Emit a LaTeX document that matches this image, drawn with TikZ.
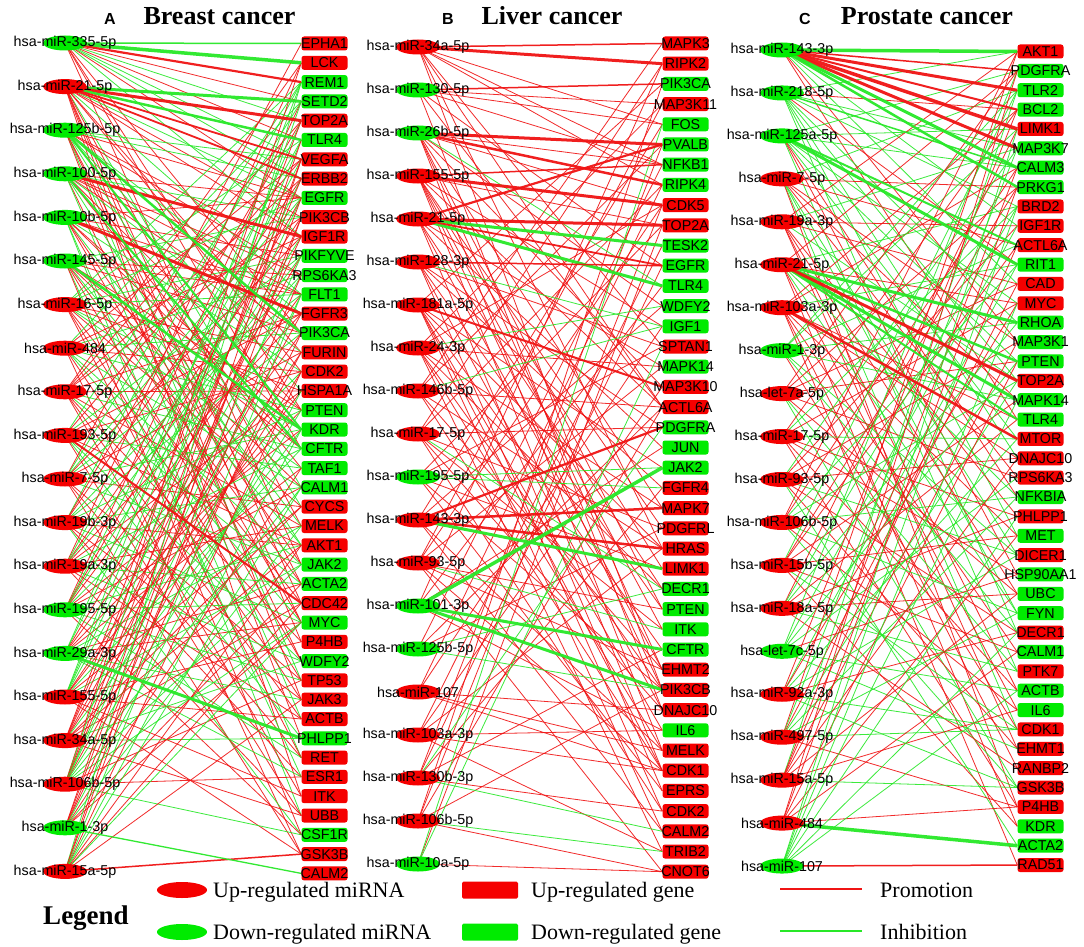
\documentclass[tikz,border=0pt]{standalone}
\usepackage{fontspec}
\setmainfont{Liberation Serif}
\setsansfont{Liberation Sans}
\usetikzlibrary{shapes.geometric}
\pgfdeclarelayer{edges}
\pgfsetlayers{edges,main}
\definecolor{ur}{RGB}{245,0,0}
\definecolor{dg}{RGB}{0,235,0}
\definecolor{promc}{RGB}{240,20,20}
\definecolor{inhc}{RGB}{40,232,40}
\begin{document}
\begin{tikzpicture}[x=1pt,y=-1pt,
  mi/.style={ellipse, minimum width=44, minimum height=15, inner sep=0pt, draw=none},
  mtxt/.style={font=\sffamily\fontsize{14.3}{15}\selectfont, inner sep=0pt, text=black},
  gn/.style={rectangle, rounded corners=2.5pt, minimum width=46, minimum height=14, inner sep=0pt, draw=none},
  gtxt/.style={font=\sffamily\fontsize{14.3}{15}\selectfont, inner sep=0pt, text=black},
  lnk/.style={line width=0.8pt, opacity=0.9},
  ttl/.style={font=\bfseries\fontsize{26}{26}\selectfont, anchor=base},
  lett/.style={font=\sffamily\bfseries\fontsize{16}{16}\selectfont},
  lt/.style={font=\fontsize{22}{22}\selectfont, anchor=base west, inner sep=0pt}]
\useasboundingbox (0,0) rectangle (1084,947);
\begin{pgfonlayer}{edges}
\fill[white] (0,0) rectangle (1084,947);
\end{pgfonlayer}

% ---------------- titles
\node[lett] (tA) at (110,19) {A};
\node[ttl] (ttA) at (219.5,25) {Breast cancer};
\node[lett] (tB) at (448,19) {B};
\node[ttl] (ttB) at (552,25) {Liver cancer};
\node[lett] (tC) at (805,19) {C};
\node[ttl] (ttC) at (927,25) {Prostate cancer};

% ---------------- panel A nodes
\foreach \n/\c [count=\i] in {335-5p/dg,21-5p/ur,125b-5p/dg,100-5p/dg,10b-5p/dg,145-5p/dg,16-5p/ur,484/ur,17-5p/ur,193-5p/ur,7-5p/ur,19b-3p/ur,19a-3p/ur,195-5p/dg,29a-3p/dg,155-5p/ur,34a-5p/ur,106b-5p/ur,1-3p/dg,15a-5p/ur}{
  \node[mi, fill=\c] (A-m\i) at (65,{43+(\i-1)*43.6}) {};
  \node[mtxt] at (A-m\i) {hsa-miR-\n};
  \expandafter\xdef\csname AMc\i\endcsname{\c}
}
\foreach \n/\c [count=\i] in {EPHA1/ur,LCK/ur,REM1/dg,SETD2/dg,TOP2A/ur,TLR4/dg,VEGFA/ur,ERBB2/ur,EGFR/dg,PIK3CB/ur,IGF1R/ur,PIKFYVE/dg,RPS6KA3/dg,FLT1/dg,FGFR3/ur,PIK3CA/dg,FURIN/ur,CDK2/ur,HSPA1A/ur,PTEN/dg,KDR/dg,CFTR/dg,TAF1/dg,CALM1/dg,CYCS/ur,MELK/ur,AKT1/ur,JAK2/dg,ACTA2/dg,CDC42/ur,MYC/dg,P4HB/ur,WDFY2/dg,TP53/ur,JAK3/ur,ACTB/ur,PHLPP1/dg,RET/ur,ESR1/ur,ITK/ur,UBB/ur,CSF1R/dg,GSK3B/ur,CALM2/ur}{
  \node[gn, fill=\c] (A-g\i) at (324.5,{43.5+(\i-1)*19.3}) {};
  \node[gtxt] at (A-g\i) {\n};
  \expandafter\xdef\csname AGc\i\endcsname{\c}
}

% ---------------- panel B nodes
\foreach \n/\c [count=\i] in {34a-5p/ur,130-5p/dg,26b-5p/dg,155-5p/ur,21-5p/ur,128-3p/ur,181a-5p/ur,24-3p/ur,146b-5p/ur,17-5p/ur,195-5p/dg,143-3p/ur,93-5p/ur,101-3p/dg,125b-5p/dg,107/ur,103a-3p/ur,130b-3p/ur,106b-5p/ur,10a-5p/dg}{
  \node[mi, fill=\c] (B-m\i) at (418,{47+(\i-1)*43}) {};
  \node[mtxt] at (B-m\i) {hsa-miR-\n};
}
\foreach \n/\c [count=\i] in {MAPK3/ur,RIPK2/ur,PIK3CA/dg,MAP3K11/ur,FOS/dg,PVALB/dg,NFKB1/dg,RIPK4/dg,CDK5/ur,TOP2A/ur,TESK2/dg,EGFR/dg,TLR4/dg,WDFY2/dg,IGF1/dg,SPTAN1/ur,MAPK14/dg,MAP3K10/ur,ACTL6A/ur,PDGFRA/dg,JUN/dg,JAK2/dg,FGFR4/ur,MAPK7/ur,PDGFRL/ur,HRAS/ur,LIMK1/ur,DECR1/dg,PTEN/dg,ITK/dg,CFTR/dg,EHMT2/ur,PIK3CB/ur,DNAJC10/ur,IL6/dg,MELK/ur,CDK1/ur,EPRS/ur,CDK2/ur,CALM2/ur,TRIB2/ur,CNOT6/ur}{
  \node[gn, fill=\c] (B-g\i) at (685.5,{43.5+(\i-1)*20.2}) {};
  \node[gtxt] at (B-g\i) {\n};
}

% ---------------- panel C nodes
\foreach \n/\c [count=\i] in {miR-143-3p/dg,miR-218-5p/dg,miR-125a-5p/dg,miR-7-5p/ur,miR-19a-3p/ur,miR-21-5p/ur,miR-103a-3p/ur,miR-1-3p/dg,let-7a-5p/ur,miR-17-5p/ur,miR-93-5p/ur,miR-106b-5p/ur,miR-15b-5p/ur,miR-18a-5p/ur,let-7c-5p/dg,miR-92a-3p/ur,miR-497-5p/ur,miR-15a-5p/ur,miR-484/ur,miR-107/dg}{
  \node[mi, fill=\c] (C-m\i) at (782,{50+(\i-1)*42.95}) {};
  \node[mtxt] at (C-m\i) {hsa-\n};
  \expandafter\xdef\csname CMc\i\endcsname{\c}
}
\foreach \n/\c [count=\i] in {AKT1/ur,PDGFRA/dg,TLR2/dg,BCL2/dg,LIMK1/ur,MAP3K7/dg,CALM3/dg,PRKG1/dg,BRD2/ur,IGF1R/ur,ACTL6A/ur,RIT1/dg,CAD/ur,MYC/ur,RHOA/dg,MAP3K1/dg,PTEN/dg,TOP2A/ur,MAPK14/dg,TLR4/dg,MTOR/ur,DNAJC10/ur,RPS6KA3/ur,NFKBIA/dg,PHLPP1/ur,MET/dg,DICER1/ur,HSP90AA1/dg,UBC/dg,FYN/dg,DECR1/ur,CALM1/dg,PTK7/ur,ACTB/dg,IL6/dg,CDK1/ur,EHMT1/ur,RANBP2/ur,GSK3B/ur,P4HB/ur,KDR/dg,ACTA2/dg,RAD51/ur}{
  \node[gn, fill=\c] (C-g\i) at (1040.5,{51.5+(\i-1)*19.37}) {};
  \node[gtxt] at (C-g\i) {\n};
}

% ---------------- edges
\def\redtag{ur}
\begin{pgfonlayer}{edges}
% panel A thin (colour: red when miRNA and gene share colour)
\foreach \m/\gs in {1/{4,5,6,7,8,9,11,16,20,22,28},2/{9,10,11,14,17,18,24,26,30,32,35,40},3/{7,8,9,12,13,15,19,25,29,31,34,37},4/{9,10,13,14,16,17,20,23,27,33,36},5/{9,12,14,18,21,22,26,28,31,38,41},6/{10,13,14,16,20,22,24,27,29,33,39,42},7/{3,6,9,12,14,17,19,21,23,25,30,34,38},8/{4,7,11,13,16,18,20,24,28,31,35,43},9/{2,5,8,10,15,19,22,26,29,32,36,40},10/{3,7,12,15,18,23,27,33,37,41},11/{1,4,9,11,14,17,21,25,28,34,38,43},12/{3,5,8,13,16,20,24,27,31,35,39,42},13/{2,6,10,12,15,19,22,26,29,33,36,41},14/{4,7,9,11,14,18,21,24,27,30,34,38,42},15/{5,8,12,16,20,23,26,29,31,35,39},16/{3,6,9,13,17,19,22,25,28,32,36,40,43},17/{5,8,11,15,18,21,25,27,30,33,37,41},18/{2,4,7,10,12,14,17,20,24,28,31,34,39,42},19/{6,9,13,16,19,23,26,29,31},20/{3,7,10,14,18,21,24,27,30,31,35}}{
  \foreach \g in \gs {
    \edef\ca{\csname AMc\m\endcsname}\edef\cb{\csname AGc\g\endcsname}
    \ifx\ca\cb \def\ec{promc}\else\def\ec{inhc}\fi
    \draw[lnk, draw=\ec] (A-m\m.center) -- (A-g\g.west);
  }
}
% panel A thick
\foreach \m/\g/\c/\w in {1/1/inhc/1.5,1/2/inhc/3.5,1/3/promc/2.2,2/4/inhc/3,2/5/promc/3,2/6/inhc/2.5,2/7/promc/1.8,2/8/promc/1.8,4/11/promc/3,5/15/promc/3,3/16/inhc/2.5,3/21/inhc/2,4/22/inhc/2,6/21/inhc/2.5,10/30/promc/2,15/37/inhc/3,20/43/promc/1.5,19/44/inhc/1.3}{
  \draw[draw=\c, line width=\w, opacity=0.95] (A-m\m.center) -- (A-g\g.west);
}

% panel B thin red
\foreach \m/\gs in {1/{5,7,8,16,19,26,33},2/{4,5,7,12,19,34},3/{7,9,14,18,24,29,32,36},4/{10,15,19,25,27,30,33,37},5/{17,21,28,32,38},6/{16,20,23,29,34,39},7/{3,22,26,31,35,37,40},8/{4,9,17,24,28,33,36,41},9/{1,6,19,26,32,37},10/{2,8,20,25,30,34,39},11/{10,16,27,33,38},12/{5,14,36,40},13/{4,9,17,29,32,37,42},14/{2,13,21,35},15/{7,19,25},16/{8,15,34,36,37},17/{11,18,26,35,37,41},18/{6,12,23,31,39},19/{3,9,19,33,42},20/{10,42}}{
  \foreach \g in \gs {
    \draw[lnk, draw=promc] (B-m\m.center) -- (B-g\g.west);
  }
}
% panel B thin green
\foreach \m/\g in {3/13,6/15,8/14,9/15,10/28,11/22,11/23,15/33,15/28,18/40,19/41,20/16,18/20,20/5,13/30}{
  \draw[lnk, draw=inhc] (B-m\m.center) -- (B-g\g.west);
}
% panel B thick
\foreach \m/\g/\c/\w in {1/1/promc/1.5,1/2/promc/3,2/3/promc/1.5,3/6/promc/3,3/8/promc/2.5,4/9/promc/3,4/7/promc/1.5,5/10/promc/3,5/11/inhc/3,5/13/inhc/3,5/6/promc/2.2,5/12/promc/1.8,6/12/promc/1.5,7/18/promc/2,12/20/promc/2.2,12/24/promc/2.5,12/26/promc/2.5,12/27/inhc/3,14/22/inhc/3.5,14/31/inhc/3,14/33/inhc/3}{
  \draw[draw=\c, line width=\w, opacity=0.95] (B-m\m.center) -- (B-g\g.west);
}

% panel C thin (mixed colours)
\foreach \m/\gs in {1/{10,13,16,20},2/{1,4,6,9,12,15,18,22,26,31},3/{2,5,7,14,17,21,24,28,33},4/{3,8,11,16,19,23,27,30,36,40},5/{1,6,10,13,18,25,29,34,37},6/{2,9,14,24,30,35,41},7/{4,7,12,20,22,26,32,38,43},8/{3,5,11,15,19,27,31,36},9/{2,8,13,17,23,29,33,39},10/{4,9,14,21,25,28,34,40},11/{6,10,16,22,27,31,37,42},12/{1,7,12,18,24,30,35,39},13/{3,8,11,19,26,32,36,41},14/{5,9,15,20,25,29,33,38},15/{2,10,17,23,28,34,37},16/{4,12,14,21,27,31,36,39},17/{1,6,13,18,24,30,36,40},18/{3,7,11,16,22,29,35,39},19/{2,8,17,26,32,40},20/{5,9,14,19,25,31,34}}{
  \foreach \g in \gs {
    \edef\ca{\csname CMc\m\endcsname}
    \ifx\ca\redtag
      \pgfmathtruncatemacro\rr{mod(\g,3)}
      \ifnum\rr=0 \def\ec{inhc}\else\def\ec{promc}\fi
    \else
      \pgfmathtruncatemacro\rr{mod(\g,4)}
      \ifnum\rr=0 \def\ec{promc}\else\def\ec{inhc}\fi
    \fi
    \draw[lnk, draw=\ec] (C-m\m.center) -- (C-g\g.west);
  }
}
% panel C thick
\foreach \m/\g/\c/\w in {1/1/inhc/3.5,1/2/promc/1.5,1/3/promc/3,1/4/promc/2,1/5/promc/3.5,1/6/promc/3,1/7/inhc/3,1/8/inhc/2.5,2/7/inhc/1.5,3/11/inhc/2,3/12/inhc/3,6/15/inhc/3,6/17/inhc/2.5,6/19/inhc/3,6/20/inhc/2,6/18/promc/3,7/21/promc/2.5,19/42/inhc/3.5,20/43/promc/1.5}{
  \draw[draw=\c, line width=\w, opacity=0.95] (C-m\m.center) -- (C-g\g.west);
}
\end{pgfonlayer}

% ---------------- legend
\node[font=\bfseries\fontsize{27}{27}\selectfont, anchor=base] (leg) at (86,924) {Legend};
\node[mi, fill=ur, minimum width=50, minimum height=16] (l1) at (182,890) {};
\node[lt] (l1t) at (213,897) {Up-regulated miRNA};
\node[mi, fill=dg, minimum width=50, minimum height=16] (l2) at (182,932) {};
\node[lt] (l2t) at (213,939) {Down-regulated miRNA};
\node[gn, fill=ur, minimum width=56, minimum height=17, rounded corners=1.5pt] (l3) at (490,890) {};
\node[lt] (l3t) at (531,897) {Up-regulated gene};
\node[gn, fill=dg, minimum width=56, minimum height=17, rounded corners=1.5pt] (l4) at (490,932) {};
\node[lt] (l4t) at (531,939) {Down-regulated gene};
\coordinate (p1) at (780,889); \coordinate (p2) at (862,889);
\draw[promc, line width=2.5pt] (p1) -- (p2);
\node[lt] (l5t) at (880,897) {Promotion};
\coordinate (q1) at (780,931); \coordinate (q2) at (862,931);
\draw[inhc, line width=2.5pt] (q1) -- (q2);
\node[lt] (l6t) at (880,939) {Inhibition};
\end{tikzpicture}
\end{document}
